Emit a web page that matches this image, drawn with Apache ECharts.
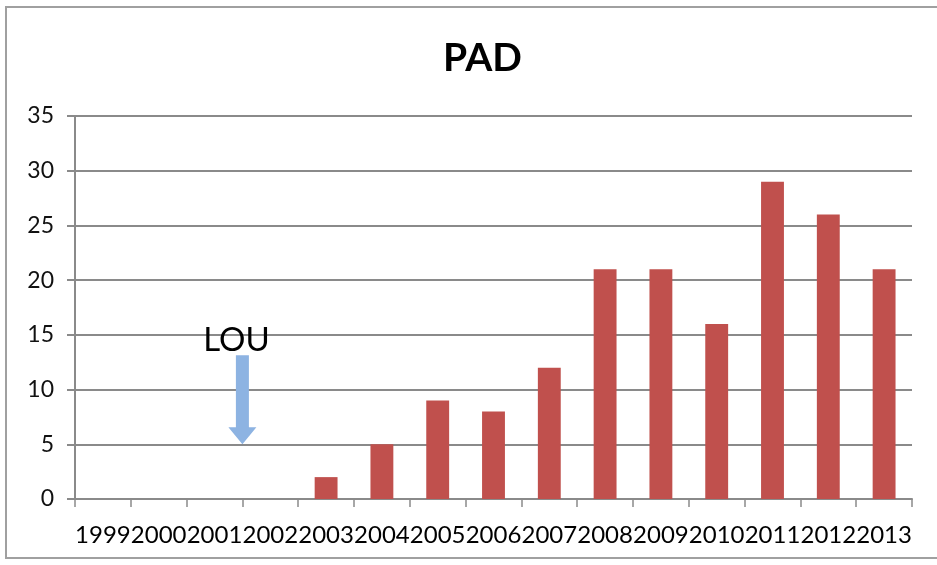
<!DOCTYPE html>
<html>
<head>
<meta charset="utf-8">
<script src="https://cdn.jsdelivr.net/npm/echarts@6/dist/echarts.min.js"></script>
<style>
  html, body { margin: 0; padding: 0; background: #fff; }
  #chart { width: 937px; height: 565px; }
</style>
</head>
<body>
<div id="chart"></div>
<script>
// data
const years = ["1999", "2000", "2001", "2002", "2003", "2004", "2005", "2006",
  "2007", "2008", "2009", "2010", "2011", "2012", "2013"];
const padCounts = [0, 0, 0, 0, 2, 5, 9, 8, 12, 21, 21, 16, 29, 26, 21];
const yTicks = [0, 5, 10, 15, 20, 25, 30, 35];

// annotation: arrow points at the 2001/2002 boundary, value 5
const noteText = "LOU";
const noteBetween = [2, 3];
const noteValue = 5;

const FONT = "'Lato', 'DejaVu Sans', sans-serif";

const chart = echarts.init(document.getElementById("chart"));

const option = {
  animation: false,
  backgroundColor: "#fff",
  title: {
    text: "PAD",
    left: 438,
    top: 34,
    textStyle: {
      fontFamily: FONT,
      fontWeight: "bold",
      fontSize: 39,
      color: "#000",
    },
  },
  grid: { left: 75, right: 25, top: 116, bottom: 66 },
  xAxis: {
    type: "category",
    data: years,
    axisLine: { lineStyle: { color: "#8a8a8a", width: 2 } },
    axisTick: { show: true, length: 8, lineStyle: { color: "#8a8a8a", width: 1.5 } },
    axisLabel: {
      interval: 0,
      margin: 24,
      fontFamily: FONT,
      fontSize: 24,
      color: "#000",
    },
  },
  yAxis: {
    type: "value",
    min: yTicks[0],
    max: yTicks[yTicks.length - 1],
    interval: yTicks[1] - yTicks[0],
    axisLine: { show: true, lineStyle: { color: "#8a8a8a", width: 2 } },
    axisTick: { show: true, length: 8, lineStyle: { color: "#8a8a8a", width: 2 } },
    splitLine: { lineStyle: { color: "#8a8a8a", width: 2 } },
    axisLabel: {
      margin: 21,
      fontFamily: FONT,
      fontSize: 23,
      color: "#111",
    },
  },
  series: [
    {
      name: "PAD",
      type: "bar",
      data: padCounts,
      barCategoryGap: "59%",
      itemStyle: { color: "#c0504d" },
    },
  ],
};
chart.setOption(option);

// place the LOU arrow from the axis scales
const p1 = chart.convertToPixel({ seriesIndex: 0 }, [noteBetween[0], noteValue]);
const p2 = chart.convertToPixel({ seriesIndex: 0 }, [noteBetween[1], noteValue]);
const tipX = (p1[0] + p2[0]) / 2;
const tipY = p1[1];

chart.setOption({
  graphic: [
    {
      type: "rect",
      silent: true,
      shape: { x: 6, y: 7, width: 940, height: 551 },
      style: { fill: "none", stroke: "#a0a0a0", lineWidth: 2 },
    },
    {
      type: "polygon",
      silent: true,
      shape: {
        points: [
          [tipX - 6.5, tipY - 89],
          [tipX + 6.5, tipY - 89],
          [tipX + 6.5, tipY - 17],
          [tipX + 14, tipY - 17],
          [tipX, tipY],
          [tipX - 14, tipY - 17],
          [tipX - 6.5, tipY - 17],
        ],
      },
      style: { fill: "#8db3e2" },
    },
    {
      type: "text",
      silent: true,
      x: tipX - 6,
      y: tipY - 104,
      style: {
        text: noteText,
        fontFamily: FONT,
        fontSize: 33,
        fill: "#000",
        align: "center",
        verticalAlign: "middle",
      },
    },
  ],
});
</script>
</body>
</html>
